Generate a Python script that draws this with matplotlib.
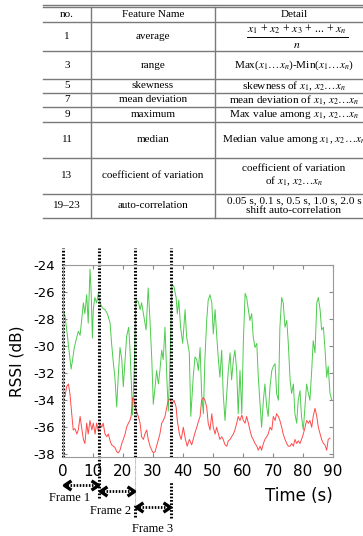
import matplotlib
matplotlib.use('Agg')
import matplotlib.pyplot as plt
from matplotlib.path import Path
from matplotlib.transforms import blended_transform_factory

plt.rcParams['axes.unicode_minus'] = False
plt.rcParams['mathtext.fontset'] = 'stix'

# ---- table contents ----
table_header = ['no.', 'Feature Name', 'Detail']
table_nos = ['1', '3', '5', '7', '9', '11', '13', '19\u201323']
table_names = ['average', 'range', 'skewness', 'mean deviation', 'maximum',
               'median', 'coefficient of variation', 'auto-correlation']
table_details = [
    None,  # fraction, drawn separately
    r'Max($x_1\ldots x_n$)-Min($x_1\ldots x_n$)',
    r'skewness of $x_1$, $x_2\ldots x_n$',
    r'mean deviation of $x_1$, $x_2\ldots x_n$',
    r'Max value among $x_1$, $x_2\ldots x_n$',
    r'Median value among $x_1$, $x_2\ldots x_n$',
    'coefficient of variation\n' + r'of $x_1$, $x_2\ldots x_n$',
    '0.05 s, 0.1 s, 0.5 s, 1.0 s, 2.0 s\nshift auto-correlation',
]
avg_numerator = r'$x_1$ + $x_2$ + $x_3$ + ... + $x_n$'
avg_denominator = r'$n$'

# ---- RSSI traces ----
green_t = [0.0, 0.7, 1.4, 2.1, 2.7, 3.2, 3.7, 4.3, 5.1, 5.7, 6.2, 6.8, 7.3, 7.9,
           8.4, 9.0, 9.4, 9.8, 10.1, 10.6, 11.2, 11.8, 12.3, 13.2, 14.0, 14.8,
           15.7, 16.2, 16.8, 17.3, 17.9, 18.4, 19.0, 19.6, 20.1, 20.7, 21.2,
           21.9, 22.3, 22.9, 23.2, 23.7, 24.3, 25.1, 25.7, 26.2, 26.8, 27.7,
           28.4, 29.0, 29.6, 30.1, 30.7, 31.2, 31.8, 32.3, 32.9, 33.4, 34.0,
           34.6, 35.1, 35.7, 36.3, 37.0, 37.7, 38.1, 38.6, 39.2, 39.9, 40.7,
           41.2, 42.1, 42.6, 43.4, 44.0, 44.6, 45.1, 45.7, 46.2, 46.8, 47.3,
           47.9, 48.4, 49.0, 49.6, 50.1, 50.7, 51.2, 51.8, 52.3, 52.9, 53.4,
           54.0, 54.6, 55.1, 55.7, 56.2, 56.8, 57.3, 57.9, 58.4, 59.0, 59.6,
           60.1, 60.7, 61.2, 61.8, 62.3, 62.9, 63.4, 64.0, 64.6, 65.1, 65.7,
           66.2, 66.8, 67.3, 67.9, 68.4, 69.0, 69.6, 70.1, 70.7, 71.2, 71.8,
           72.3, 72.9, 73.4, 74.0, 74.6, 75.1, 75.7, 76.2, 76.8, 77.3, 77.9,
           78.4, 79.0, 79.5, 80.1, 80.7, 81.2, 81.8, 82.3, 82.9, 83.4, 84.0,
           84.6, 85.1, 85.7, 86.2, 86.8, 87.3, 87.9, 88.4, 89.0, 89.6]
green_v = [-27.3, -27.8, -29.1, -30.5, -31.7, -31.0, -30.2, -29.6, -28.9, -29.2,
           -28.1, -26.8, -27.6, -26.2, -28.3, -24.3, -26.1, -29.4, -27.3, -26.4,
           -26.8, -26.1, -26.8, -27.2, -27.3, -27.6, -28.3, -29.8, -31.3, -32.3,
           -34.5, -32.3, -30.1, -31.0, -33.0, -31.0, -29.3, -28.6, -30.1, -33.5,
           -35.1, -32.0, -26.6, -26.7, -27.3, -26.8, -27.6, -28.8, -25.7, -28.1,
           -31.0, -34.3, -33.0, -31.8, -32.8, -31.8, -30.3, -31.0, -28.6, -32.3,
           -34.8, -31.0, -25.4, -25.6, -26.4, -27.6, -26.6, -28.6, -29.8, -27.3,
           -29.3, -30.5, -35.2, -32.3, -30.8, -31.0, -31.8, -30.1, -33.5, -35.0,
           -31.0, -28.1, -26.6, -26.2, -26.8, -29.1, -27.3, -29.1, -31.0, -32.3,
           -30.3, -33.5, -35.5, -33.5, -31.8, -30.5, -32.5, -31.0, -30.3, -31.8,
           -35.0, -31.8, -35.0, -29.8, -26.1, -26.4, -27.3, -28.1, -27.6, -29.3,
           -30.1, -29.8, -32.3, -34.3, -36.0, -34.0, -32.8, -34.5, -35.2, -33.0,
           -31.8, -31.5, -31.3, -33.5, -34.0, -28.6, -26.4, -26.8, -28.6, -28.1,
           -29.8, -32.5, -33.5, -32.8, -35.0, -35.7, -34.0, -33.3, -35.2, -36.2,
           -34.3, -32.8, -33.5, -34.0, -31.8, -29.6, -30.5, -26.8, -26.4, -27.3,
           -28.8, -28.6, -30.1, -32.3, -31.5, -33.5, -34.0]

red_t = [0.0, 0.7, 1.2, 1.8, 2.3, 2.9, 3.4, 4.0, 4.6, 5.1, 5.7, 6.2, 6.8, 7.3,
         7.9, 8.4, 9.0, 9.6, 10.1, 10.7, 11.2, 11.8, 12.3, 12.9, 13.4, 14.0,
         14.6, 15.1, 15.7, 16.2, 16.8, 17.3, 17.9, 18.4, 19.0, 19.6, 20.1, 20.7,
         21.2, 21.8, 22.3, 22.7, 23.2, 23.7, 24.3, 25.1, 25.7, 26.2, 26.8, 27.3,
         27.9, 28.4, 29.0, 29.6, 30.1, 30.7, 31.2, 31.8, 32.3, 32.9, 33.4, 34.0,
         34.6, 35.1, 35.7, 36.3, 37.0, 37.7, 38.1, 38.8, 39.4, 40.1, 40.8, 41.4,
         42.1, 42.9, 43.4, 44.0, 44.6, 45.1, 45.7, 46.2, 46.8, 47.3, 47.9, 48.4,
         49.0, 49.6, 50.1, 50.7, 51.2, 51.8, 52.3, 52.9, 53.4, 54.0, 54.6, 55.1,
         55.7, 56.2, 56.8, 57.3, 57.9, 58.4, 59.0, 59.6, 60.1, 60.7, 61.2, 61.8,
         62.3, 62.9, 63.4, 64.0, 64.6, 65.1, 65.7, 66.2, 66.8, 67.3, 67.9, 68.4,
         69.0, 69.6, 70.1, 70.7, 71.2, 71.8, 72.3, 72.9, 73.4, 74.0, 74.6, 75.1,
         75.7, 76.2, 76.8, 77.3, 77.9, 78.4, 79.0, 79.5, 80.1, 80.7, 81.2, 81.8,
         82.3, 82.9, 83.4, 84.0, 84.6, 85.1, 85.7, 86.2, 86.8, 87.3, 87.9, 88.4,
         89.0]
red_v = [-33.8, -33.7, -33.0, -32.8, -33.5, -35.0, -36.2, -36.1, -36.5, -36.2,
         -35.2, -36.0, -36.9, -37.2, -35.7, -36.5, -35.5, -36.2, -35.7, -36.5,
         -35.7, -36.3, -35.7, -36.0, -35.7, -36.5, -36.7, -36.5, -37.0, -37.3,
         -37.4, -37.5, -37.8, -37.9, -37.7, -37.2, -36.9, -36.5, -36.0, -35.7,
         -35.5, -35.2, -33.8, -34.0, -34.7, -35.2, -35.7, -36.7, -36.9, -36.5,
         -36.2, -36.9, -37.4, -37.7, -37.9, -37.8, -37.4, -36.9, -36.5, -35.7,
         -35.5, -35.2, -34.5, -34.0, -33.9, -34.3, -34.0, -34.5, -35.5, -36.5,
         -36.9, -36.0, -36.9, -37.4, -36.9, -37.3, -36.9, -36.4, -36.0, -35.6,
         -35.2, -34.0, -33.8, -34.0, -34.5, -35.7, -36.2, -35.0, -36.0, -36.5,
         -36.0, -36.5, -36.9, -36.7, -36.9, -37.3, -37.4, -37.0, -36.9, -36.7,
         -36.5, -36.2, -35.7, -35.2, -35.5, -35.1, -35.5, -35.7, -35.2, -35.7,
         -36.2, -36.7, -36.9, -37.2, -37.4, -37.7, -37.4, -37.7, -37.2, -36.9,
         -36.7, -36.5, -36.0, -36.2, -35.2, -35.5, -35.0, -35.2, -35.5, -36.0,
         -36.5, -36.9, -37.2, -37.4, -37.4, -37.2, -37.4, -36.9, -37.2, -37.0,
         -37.2, -36.9, -36.5, -36.0, -35.5, -35.7, -35.5, -36.0, -35.2, -34.6,
         -35.2, -36.0, -36.5, -36.9, -37.2, -37.3, -37.7, -36.9, -36.8]

yticks = [-38, -36, -34, -32, -30, -28, -26, -24]
xticks = [0, 10, 20, 30, 40, 50, 60, 70, 80, 90]

frame_starts = [0, 12, 24]
frame_len = 12
frame_labels = ['Frame 1', 'Frame 2', 'Frame 3']

W, H = 363, 536
fig = plt.figure(figsize=(W / 100, H / 100), dpi=100)

# ---------- table (pixel coordinates on an overlay axes) ----------
tab = fig.add_axes([0, 0, 1, 1])
tab.set_xlim(0, W)
tab.set_ylim(H, 0)
tab.axis('off')

serif = 'Liberation Serif'
lc = '#7a7a7a'
x_left, x_right = 43, 365
col_x = [91, 215]
col_c = [67, 153, 294]
row_edges = [7, 22, 51, 79, 93, 107, 122, 158, 194, 218]

tab.plot([x_left, x_right], [4.5, 4.5], color=lc, lw=1.0)
for y in row_edges:
    tab.plot([x_left, x_right], [y, y], color=lc, lw=1.0)
for x in col_x:
    tab.plot([x, x], [row_edges[0], row_edges[-1]], color=lc, lw=1.0)

for c, txt in zip(col_c, table_header):
    tab.text(c, (row_edges[0] + row_edges[1]) / 2, txt, ha='center', va='center',
             family=serif, fontsize=8)

for i in range(len(table_nos)):
    yc = (row_edges[i + 1] + row_edges[i + 2]) / 2
    tab.text(col_c[0], yc, table_nos[i], ha='center', va='center',
             family=serif, fontsize=8)
    tab.text(col_c[1], yc, table_names[i], ha='center', va='center',
             family=serif, fontsize=8)
    if table_details[i] is None:
        tab.text(297, yc - 7, avg_numerator, ha='center', va='center',
                 family=serif, fontsize=8.5)
        tab.plot([247, 348], [yc + 0.5, yc + 0.5], color='black', lw=0.7)
        tab.text(297, yc + 8, avg_denominator, ha='center', va='center',
                 family=serif, fontsize=8.5)
    else:
        tab.text(col_c[2], yc, table_details[i], ha='center', va='center',
                 family=serif, fontsize=8.1, linespacing=1.1)

# ---------- RSSI chart ----------
ax_top, ax_bot, ax_l, ax_r = 265, 457, 63, 333
ax = fig.add_axes([ax_l / W, (H - ax_bot) / H, (ax_r - ax_l) / W, (ax_bot - ax_top) / H])

ax.plot(green_t, green_v, color='#4ccc4c', lw=0.7)
ax.plot(red_t, red_v, color='#ff4a4a', lw=0.7)

ax.set_xlim(0, 90)
ax.set_ylim(-38.2, -24)
ax.set_yticks(yticks)
ax.set_xticks(xticks)
ax.tick_params(axis='both', direction='in', length=3, color='#888888',
               top=True, right=True)
ax.tick_params(axis='y', labelsize=9.5, pad=6)
ax.tick_params(axis='x', labelsize=11, pad=5)
for s in ax.spines.values():
    s.set_color('#999999')
    s.set_linewidth(0.8)

ax.set_ylabel('RSSI (dB)', fontsize=11, labelpad=6)
ax.text(1.0, -0.205, 'Time (s)', transform=ax.transAxes, ha='right', va='center',
        fontsize=12)

# frame boundaries, x in seconds, y in axes fraction
trans = blended_transform_factory(ax.transData, ax.transAxes)
dot = (0, (0.55, 0.55))
ext_top = 1.09
ax.plot([0, 0], [0, ext_top], color='black', lw=2.2, ls=dot, transform=trans, clip_on=False)
ax.plot([12, 12], [-0.215, ext_top], color='black', lw=2.2, ls=dot, transform=trans, clip_on=False)
ax.plot([24, 24], [0, ext_top], color='black', lw=2.2, ls=dot, transform=trans, clip_on=False)
ax.plot([24, 24], [-0.245, 0], color='#999999', lw=0.8, ls=dot, transform=trans, clip_on=False)
ax.plot([24, 24], [-0.31, -0.245], color='black', lw=2.2, ls=dot, transform=trans, clip_on=False)
ax.plot([36, 36], [0, ext_top], color='black', lw=2.2, ls=dot, transform=trans, clip_on=False)
ax.plot([36, 36], [-0.32, -0.125], color='black', lw=2.2, ls=dot, transform=trans, clip_on=False)

left_head = Path([(1.5, 1), (0, 0), (1.5, -1)], [Path.MOVETO, Path.LINETO, Path.LINETO])
right_head = Path([(-1.5, 1), (0, 0), (-1.5, -1)], [Path.MOVETO, Path.LINETO, Path.LINETO])

arrow_y = [-0.145, -0.178, -0.262]
label_pos = [(2.3, -0.215), (15.7, -0.283), (30.0, -0.377)]
for start, ay, (lx, ly), lab in zip(frame_starts, arrow_y, label_pos, frame_labels):
    x0 = start + 0.4
    x1 = start + frame_len - 0.4
    ax.plot([x0 + 1, x1 - 1], [ay, ay], color='black', lw=2.0, ls=dot,
            transform=trans, clip_on=False)
    ax.plot([x0], [ay], marker=left_head, ms=10, mew=2.4, mec='black', mfc='none',
            transform=trans, clip_on=False)
    ax.plot([x1], [ay], marker=right_head, ms=10, mew=2.4, mec='black', mfc='none',
            transform=trans, clip_on=False)
    ax.text(lx, ly, lab, transform=trans, ha='center', va='center',
            family=serif, fontsize=9)

fig.savefig('out.png', dpi=100)
